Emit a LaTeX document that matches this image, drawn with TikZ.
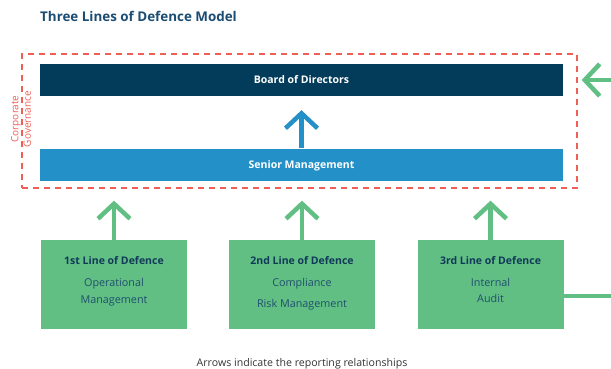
\documentclass[tikz,border=0pt]{standalone}
\usepackage{fontspec}
\setmainfont{Open Sans}
\usetikzlibrary{arrows.meta}

\definecolor{titleblue}{HTML}{1B4C72}
\definecolor{boardblue}{HTML}{033C5A}
\definecolor{seniorblue}{HTML}{2490C8}
\definecolor{linegreen}{HTML}{62BF84}
\definecolor{navytext}{HTML}{113A59}
\definecolor{bodytext}{HTML}{1F4F6E}
\definecolor{govred}{HTML}{EE5F56}
\definecolor{notegray}{HTML}{333333}

\tikzset{
  band/.style={minimum width=523pt, minimum height=32pt, inner sep=0pt,
    text height=8pt, text depth=0pt,
    text=white, font=\fontsize{10.5}{12}\selectfont\bfseries},
  linebox/.style={fill=linegreen, minimum width=146pt, minimum height=89pt, inner sep=0pt},
  boxtitle/.style={anchor=base, text=navytext, inner sep=0pt, font=\fontsize{10.5}{12}\selectfont\bfseries},
  boxbody/.style={anchor=base, text=bodytext, inner sep=0pt, font=\fontsize{10.8}{12}\selectfont},
  govframe/.style={draw=govred, line width=1.3pt, dash pattern=on 6pt off 5pt,
    minimum width=555pt, minimum height=134pt, inner sep=0pt},
  report/.style={line width=4.5pt, -{Straight Barb[length=15pt, width=32pt]}},
}

\begin{document}
\begin{tikzpicture}[x=1pt, y=-1pt]
\useasboundingbox (0,0) rectangle (611,369);
\clip (0,0) rectangle (611,369);

% heading
\node[anchor=base west, inner sep=0pt, text=titleblue,
  font=\fontsize{13.4}{15}\selectfont\bfseries] (heading) at (40,21.7) {Three Lines of Defence Model};

% governance frame and its two bands
\node[govframe] (gov) at (299.5,121) {};
\node[band, fill=boardblue] (board) at (301.5,80) {Board of Directors};
\node[band, fill=seniorblue] (senior) at (301.5,164.5) {Senior Management};
\node[rotate=90, align=center, inner sep=0pt, text=govred,
  font=\fontsize{10}{12.5}\selectfont] (govlabel) at (21,119) {Corporate\\Governance};

% the three lines of defence
\node[linebox] (l1) at (114,284.5) {};
\node[linebox] (l2) at (302,284.5) {};
\node[linebox] (l3) at (490.5,284.5) {};

\node[boxtitle] (l1t) at (114,264) {1st Line of Defence};
\node[boxbody] (l1a) at (114,286.5) {Operational};
\node[boxbody] (l1b) at (114,303) {Management};

\node[boxtitle] (l2t) at (302,264) {2nd Line of Defence};
\node[boxbody] (l2a) at (302,286.5) {Compliance};
\node[boxbody] (l2b) at (302,307) {Risk Management};

\node[boxtitle] (l3t) at (490.5,264) {3rd Line of Defence};
\node[boxbody] (l3a) at (490.5,286.5) {Internal};
\node[boxbody] (l3b) at (490.5,302.5) {Audit};

% reporting lines
\draw[report, draw=seniorblue, shorten >=14pt] (senior.north) -- (board.south);
\draw[report, draw=linegreen, shorten >=12pt] (l1.north) -- (l1.north |- gov.south);
\draw[report, draw=linegreen, shorten >=12pt] (l2.north) -- (l2.north |- gov.south);
\draw[report, draw=linegreen, shorten >=12pt] (l3.north) -- (l3.north |- gov.south);

% internal audit reports straight to the governing body
\coordinate (route) at (640,296);
\draw[report, draw=linegreen, shorten >=4pt]
  (l3.east |- route) -- (route) |- (gov.east |- board.center);

% footnote
\node[anchor=base, inner sep=0pt, text=notegray, font=\fontsize{10.6}{12}\selectfont] (note) at (302,366.5)
  {Arrows indicate the reporting relationships};
\end{tikzpicture}
\end{document}
